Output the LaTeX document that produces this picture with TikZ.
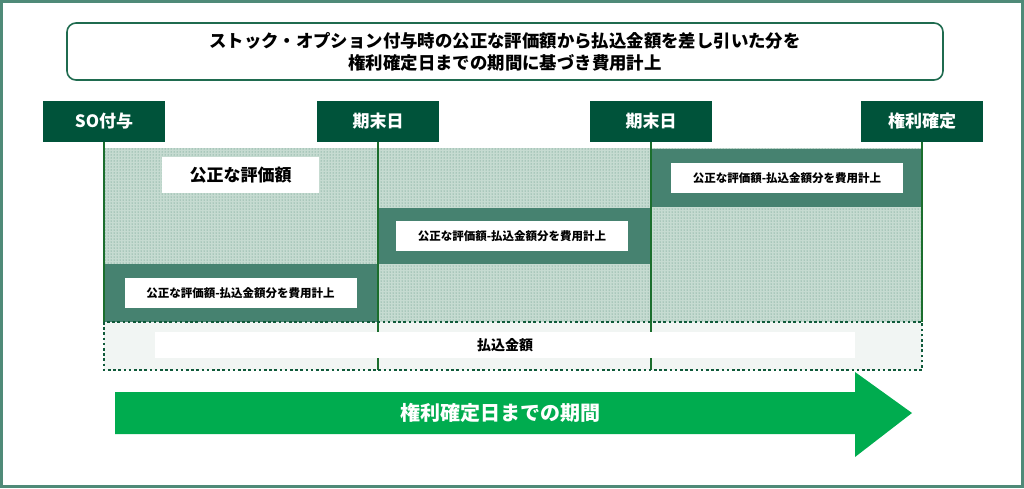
\documentclass[tikz,border=0pt]{standalone}
\usepackage{fontspec}
\setmainfont{Noto Sans CJK JP}
\usetikzlibrary{patterns}
\definecolor{frame}{HTML}{4F8A78}
\definecolor{hdrgreen}{HTML}{00533A}
\definecolor{titleborder}{HTML}{1F6B4F}
\definecolor{vgreen}{HTML}{1B6E2D}
\definecolor{band}{HTML}{468270}
\definecolor{paygray}{HTML}{F1F5F3}
\definecolor{dotborder}{HTML}{0F5A3A}
\definecolor{arrowgreen}{HTML}{00AC4F}
\definecolor{stipbg}{HTML}{C6DBD1}
\definecolor{stipdot}{HTML}{4A8873}
\tikzset{
  hdr/.style={fill=hdrgreen, text=white, font=\bfseries\fontsize{17}{20}\selectfont, minimum width=122pt, minimum height=41pt, inner sep=0pt},
  vline/.style={draw=vgreen, line width=2pt},
  lbl/.style={fill=white, font=\bfseries\fontsize{11.5}{13}\selectfont, minimum width=232pt, minimum height=30pt, inner sep=0pt},
  stip/.style={fill=stipbg, postaction={pattern=dots, pattern color=stipdot}},
}
\begin{document}
\begin{tikzpicture}[x=1pt,y=-1pt]
\useasboundingbox (0,0) rectangle (1024,488);
\draw[frame, line width=3pt] (1.5,1.5) rectangle (1022.5,486.5);
% title
\node[draw=titleborder, line width=1.6pt, rounded corners=9pt, minimum width=876pt, minimum height=57pt, align=center, font=\bfseries\fontsize{17.4}{22}\selectfont, inner sep=0pt] (title) at (505,51.5) {ストック・オプション付与時の公正な評価額から払込金額を差し引いた分を\\権利確定日までの期間に基づき費用計上};
% stippled area
\path[stip] (104,148) rectangle (922,322);
% bands
\fill[band] (104,264) rectangle (378,322);
\fill[band] (378,208) rectangle (651,264);
\fill[band] (651,149) rectangle (922,207);
% headers
\node[hdr] (so) at (104,121.5) {SO付与};
\node[hdr] (k1) at (378,121.5) {期末日};
\node[hdr] (k2) at (651,121.5) {期末日};
\node[hdr] (kk) at (922,121.5) {権利確定};
% bottom coordinates
\coordinate (b0) at (104,322);
\coordinate (b1) at (378,370);
\coordinate (b2) at (651,370);
\coordinate (b3) at (922,322);
\draw[vline] (so.south) -- (b0);
\draw[vline] (k1.south) -- (b1);
\draw[vline] (k2.south) -- (b2);
\draw[vline] (kk.south) -- (b3);
% payment area
\fill[paygray] (104,322) rectangle (922,370);
\draw[vline] (378,322) -- (b1);
\draw[vline] (651,322) -- (b2);
\draw[dotborder, line width=2.6pt, dash pattern=on 2.6pt off 2.6pt] (104,322) rectangle (922,370);
\node[fill=white, minimum width=700pt, minimum height=26pt, inner sep=0pt, font=\bfseries\fontsize{14}{16}\selectfont] (pay) at (505,345) {払込金額};
% labels
\node[fill=white, minimum width=157pt, minimum height=36pt, inner sep=0pt, font=\bfseries\fontsize{17}{20}\selectfont] (fair) at (240.5,175) {公正な評価額};
\node[lbl] (l1) at (240.5,293) {公正な評価額-払込金額分を費用計上};
\node[lbl] (l2) at (512,236) {公正な評価額-払込金額分を費用計上};
\node[lbl] (l3) at (787,178) {公正な評価額-払込金額分を費用計上};
% arrow
\fill[arrowgreen] (115,392) -- (855,392) -- (855,372) -- (912,413) -- (855,457) -- (855,434) -- (115,434) -- cycle;
\node[text=white, font=\bfseries\fontsize{20}{24}\selectfont] (period) at (500,413) {権利確定日までの期間};
\end{tikzpicture}
\end{document}
